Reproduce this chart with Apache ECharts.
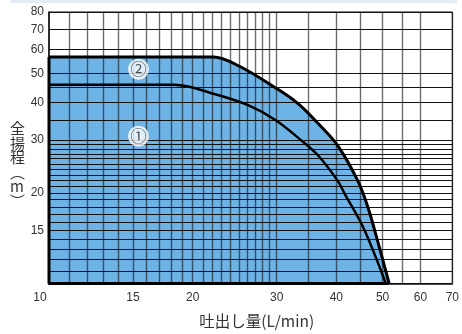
<!DOCTYPE html>
<html>
<head>
<meta charset="utf-8">
<script src="https://cdn.jsdelivr.net/npm/echarts@6/dist/echarts.min.js"></script>
<style>
  html, body { margin: 0; padding: 0; background: #fff; }
  #chart { width: 462px; height: 334px; }
</style>
</head>
<body>
<div id="chart"></div>
<script>
// 吐出し量 (L/min) 目盛
var xTickLabels = [10, 15, 20, 30, 40, 50, 60, 70];
var xGridValues = [11, 12, 13, 14, 15, 16, 17, 18, 19, 20, 21, 22, 23, 24, 25, 26, 27, 28, 29, 30, 35, 40, 45, 50, 55, 60, 70];

// 全揚程 (m) 目盛
var yTickLabels = [15, 20, 30, 40, 50, 60, 70, 80];
var yGridValues = [11, 12, 13, 14, 15, 16, 17, 18, 19, 20, 21, 22, 23, 24, 25, 26, 27, 28, 29, 30, 35, 40, 45, 50, 60, 70, 80];

// ② 性能曲線 (外側)
var curve2Flow = [10, 22.1, 25, 29.8, 33.3, 36.6, 40.3, 44.4, 46.6, 48.9, 51.6];
var curve2Head = [56.7, 56.7, 52.9, 44.8, 39.6, 34.1, 28.7, 21.9, 17.9, 13.7, 10];

// ① 性能曲線 (内側)
var curve1Flow = [10, 18.3, 22.3, 26.2, 29.8, 33.3, 36.6, 40.3, 41.7, 44.8, 47.0, 50.8];
var curve1Head = [45.8, 45.8, 42.6, 39.1, 35.0, 30.5, 26.7, 21.9, 19.8, 16.2, 13.7, 10];

// 丸数字ラベル
var markerNames = ['②', '①'];
var markerFlow = [15.4, 15.4];
var markerHead = [51.6, 30.9];

function zip(xs, ys) {
  return xs.map(function (x, i) { return [x, ys[i]]; });
}

var last2 = curve2Flow.length - 1;

var chart = echarts.init(document.getElementById('chart'));

chart.setOption({
  animation: false,
  grid: {
    left: 49, right: 7, top: 12, bottom: 42,
    show: true,
    borderColor: '#111',
    borderWidth: 1
  },
  graphic: [
    {
      type: 'rect',
      shape: { x: 10, y: 0, width: 447, height: 3 },
      style: { fill: '#e4edf7' }
    },
    {
      // 縦書きの軸名
      type: 'text',
      left: 10,
      top: 121,
      style: {
        text: '全\n揚\n程\n︵\nm\n︶',
        fontFamily: 'Noto Sans CJK JP',
        fontSize: 15,
        lineHeight: 14.5,
        align: 'center',
        fill: '#333'
      }
    }
  ],
  xAxis: {
    type: 'log',
    logBase: 10,
    min: 10,
    max: 70,
    z: 3,
    name: '吐出し量(L/min)',
    nameLocation: 'middle',
    nameGap: 30,
    nameTextStyle: {
      fontFamily: 'Noto Sans CJK JP',
      fontSize: 15.5,
      color: '#333',
      padding: [0, 0, 0, 12]
    },
    axisLine: { show: true, lineStyle: { color: '#111', width: 1.5 } },
    axisTick: { show: false, customValues: xGridValues },
    axisLabel: {
      customValues: xTickLabels,
      margin: 8,
      fontFamily: 'Liberation Sans',
      fontSize: 12,
      color: '#333',
      formatter: function (v) {
        // 10 のラベルは少し左にずれている
        return v === 10 ? '{l|10}' : String(v);
      },
      rich: {
        l: { padding: [0, 18, 0, 0], fontFamily: 'Liberation Sans', fontSize: 12, color: '#333' }
      }
    },
    splitLine: {
      show: true,
      lineStyle: { color: 'rgba(20,20,20,0.62)', width: 1.4 }
    }
  },
  yAxis: {
    type: 'log',
    logBase: 10,
    min: 10,
    max: 80,
    z: 3,
    axisLine: { show: true, lineStyle: { color: '#111', width: 1.5 } },
    axisTick: { show: false, customValues: yGridValues },
    axisLabel: {
      customValues: yTickLabels,
      margin: 5,
      fontFamily: 'Liberation Sans',
      fontSize: 12,
      color: '#333'
    },
    splitLine: {
      show: true,
      lineStyle: { color: '#111', width: 1 }
    }
  },
  series: [
    {
      // ② の下の塗り
      name: 'area2',
      type: 'line',
      z: 2,
      data: zip(curve2Flow, curve2Head),
      smooth: 0.35,
      symbol: 'none',
      lineStyle: { width: 0 },
      areaStyle: { color: '#6db3e6', opacity: 1, origin: 'start' }
    },
    {
      // 塗り領域の左端と下端の太線
      name: 'outline',
      type: 'line',
      z: 5,
      data: [
        [curve2Flow[last2], curve2Head[last2]],
        [curve2Flow[0], curve2Head[last2]],
        [curve2Flow[0], curve2Head[0]]
      ],
      symbol: 'none',
      lineStyle: { color: '#000', width: 3 }
    },
    {
      name: 'curve2',
      type: 'line',
      z: 5,
      data: zip(curve2Flow, curve2Head),
      smooth: 0.35,
      symbol: 'none',
      lineStyle: { color: '#000', width: 3 }
    },
    {
      name: 'curve1',
      type: 'line',
      z: 5,
      data: zip(curve1Flow, curve1Head),
      smooth: 0.35,
      symbol: 'none',
      lineStyle: { color: '#000', width: 2.5 }
    },
    {
      name: 'markers',
      type: 'scatter',
      z: 6,
      symbol: 'circle',
      symbolSize: 21,
      itemStyle: { color: '#fff' },
      label: {
        show: true,
        position: 'inside',
        formatter: function (p) { return p.name; },
        fontFamily: 'Noto Sans CJK JP',
        fontSize: 16,
        color: '#222'
      },
      data: markerNames.map(function (n, i) {
        return { name: n, value: [markerFlow[i], markerHead[i]] };
      })
    }
  ]
});
</script>
</body>
</html>
